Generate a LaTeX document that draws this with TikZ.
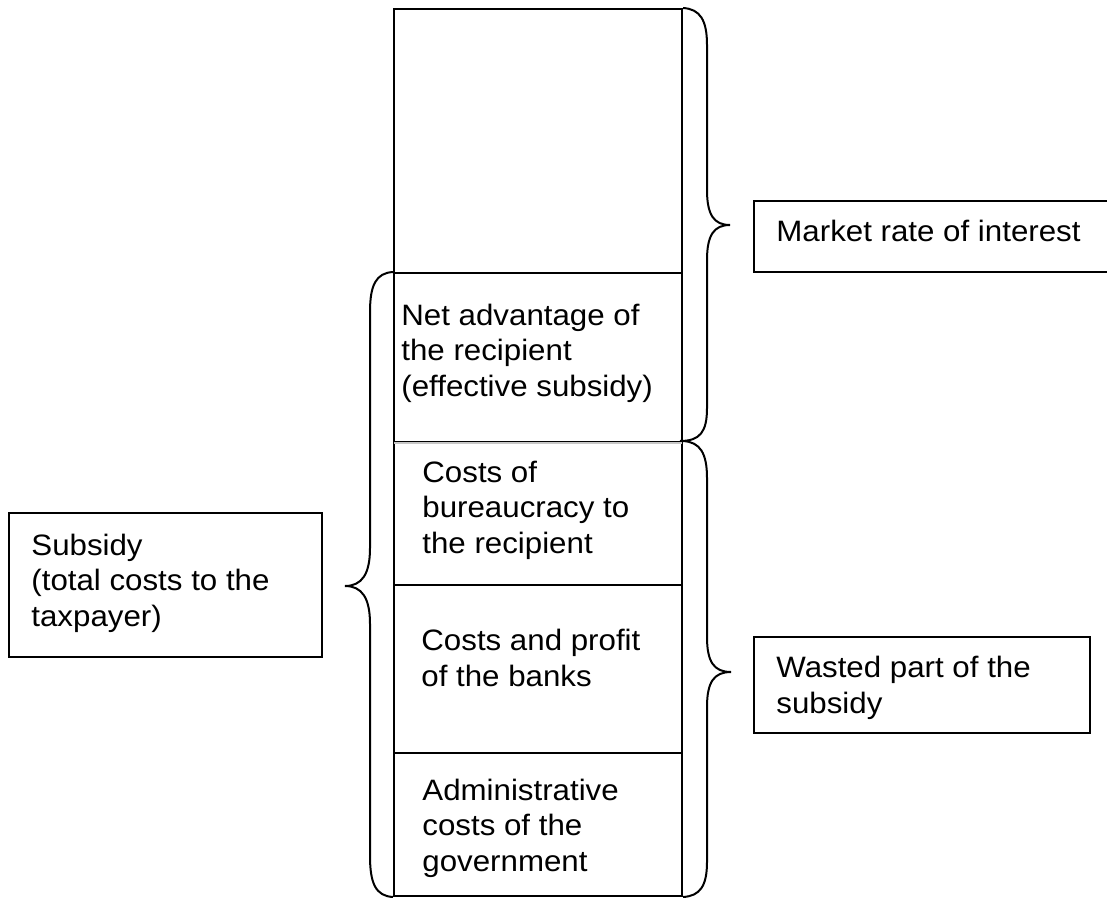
\documentclass[tikz,border=0pt]{standalone}
\usepackage{fontspec}
\setmainfont[FakeStretch=1.06]{Liberation Sans}
\begin{document}
\begin{tikzpicture}[x=0.5pt,y=-0.5pt,
  seg/.style={draw=black,line width=1pt,minimum width=144pt,inner sep=0pt},
  lbox/.style={draw=black,line width=1pt,inner sep=0pt},
  txt/.style={anchor=base west,inner sep=0pt,align=left,
    font={\fontsize{14.75}{17.75}\selectfont}},
  brace/.style={draw=black,line width=1pt}]
\clip (0,0) rectangle (1107,898);
\fill[white] (0,0) rectangle (1107,898);
% column segments
\node[seg,minimum height=132pt] (mkt) at (538,141) {};
\node[seg,minimum height=84.5pt] (net) at (538,357.5) {};
\node[seg,minimum height=71.5pt] (bur) at (538,513.5) {};
\node[seg,minimum height=84pt] (bank) at (538,669) {};
\node[seg,minimum height=71.5pt] (adm) at (538,824.5) {};
\draw[white,line width=1.2pt] ([xshift=0.6pt]net.south west) -- ([xshift=-0.6pt]net.south east);
\draw[black!22,line width=0.6pt] ([xshift=0.5pt]net.south west) -- ([xshift=-0.5pt]net.south east);
% column texts (anchored at the baseline of the last line)
\node[txt] (tnet) at (401,396) {Net advantage of\\the recipient\\(effective subsidy)};
\node[txt] (tbur) at (422,553) {Costs of\\bureaucracy to\\the recipient};
\node[txt] (tbank) at (421,686) {Costs and profit\\of the banks};
\node[txt] (tadm) at (422,871) {Administrative\\costs of the\\government};
% label boxes
\node[lbox,minimum width=156.5pt,minimum height=72pt] (sub) at (165.5,585) {};
\node[txt] (tsub) at (31,626) {Subsidy\\(total costs to the\\taxpayer)};
\node[lbox,minimum width=183pt,minimum height=35.5pt] (mri) at (937,236.5) {};
\node[txt] (tmri) at (776,242) {Market rate of interest};
\node[lbox,minimum width=168pt,minimum height=48pt] (wst) at (922,685) {};
\node[txt] (twst) at (776,713) {Wasted part of the\\subsidy};
% braces
\draw[brace] (mkt.north east) .. controls (700,9) and (707,20) .. (707,45)
  -- (707,190) .. controls (707,215) and (714,225) .. (730,225)
  .. controls (714,225) and (707,235) .. (707,260)
  -- (707,408) .. controls (707,432) and (700,441) .. (680,441);
\draw[brace] (bur.north east) .. controls (700,442) and (707,453) .. (707,478)
  -- (707,637) .. controls (707,662) and (714,672) .. (731,672)
  .. controls (714,672) and (707,682) .. (707,707)
  -- (707,862) .. controls (707,886) and (700,896) .. (adm.south east);
\draw[brace] (net.north west) .. controls (376,273) and (370,285) .. (370,312)
  -- (370,548) .. controls (370,574) and (362,586) .. (345,586)
  .. controls (362,586) and (370,598) .. (370,624)
  -- (370,856) .. controls (370,884) and (376,896) .. (adm.south west);
\end{tikzpicture}
\end{document}
